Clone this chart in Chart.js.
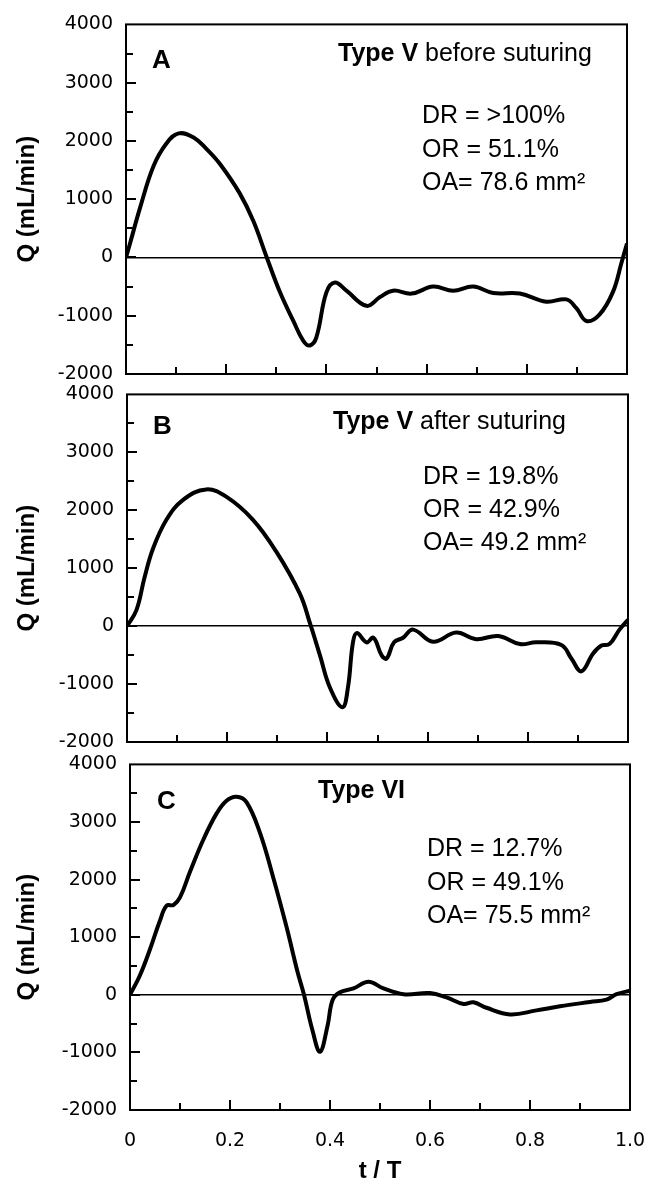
<!DOCTYPE html>
<html>
<head>
<meta charset="utf-8">
<script src="https://cdn.jsdelivr.net/npm/chart.js@4.4.1/dist/chart.umd.min.js"></script>
<style>
  html, body { margin: 0; padding: 0; background: #fff; }
  body { width: 661px; height: 1189px; position: relative; overflow: hidden; }
  canvas { position: absolute; left: 0; }
</style>
</head>
<body>
<canvas id="chartA" style="top:0px"></canvas>
<canvas id="chartB" style="top:370px"></canvas>
<canvas id="chartC" style="top:740px"></canvas>
<script>
// Axis ticks
const yTicks = [-2000, -1000, 0, 1000, 2000, 3000, 4000];
const xTicks = [0, 0.2, 0.4, 0.6, 0.8, 1.0];
const xTickLabels = ['0', '0.2', '0.4', '0.6', '0.8', '1.0'];

// Panel A - Type V before suturing
const timeA = [0, 0.008, 0.028, 0.055, 0.081, 0.105, 0.135, 0.161, 0.188, 0.227, 0.254, 0.281, 0.307, 0.334, 0.354, 0.367, 0.38, 0.40, 0.417, 0.44, 0.48, 0.507, 0.533, 0.57, 0.613, 0.653, 0.693, 0.733, 0.786, 0.839, 0.879, 0.899, 0.919, 0.945, 0.972, 0.989, 1.0];
const flowA = [0, 240, 850, 1570, 1960, 2130, 2060, 1860, 1600, 1100, 630, 0, -590, -1090, -1430, -1510, -1370, -600, -430, -570, -830, -680, -570, -620, -500, -570, -500, -610, -620, -760, -720, -870, -1090, -980, -590, -90, 240];

// Panel B - Type V after suturing
const timeB = [0, 0.019, 0.035, 0.052, 0.079, 0.112, 0.158, 0.198, 0.251, 0.298, 0.345, 0.365, 0.385, 0.405, 0.43, 0.441, 0.451, 0.459, 0.478, 0.492, 0.508, 0.518, 0.533, 0.551, 0.571, 0.611, 0.657, 0.697, 0.741, 0.784, 0.817, 0.867, 0.887, 0.907, 0.93, 0.947, 0.963, 0.983, 1.0];
const flowB = [0, 280, 840, 1340, 1840, 2180, 2360, 2235, 1840, 1285, 560, 55, -500, -1060, -1400, -1060, -280, -120, -280, -200, -500, -560, -280, -200, -60, -270, -110, -225, -170, -310, -280, -325, -560, -780, -475, -335, -310, -60, 110];

// Panel C - Type VI
const timeC = [0, 0.02, 0.04, 0.06, 0.073, 0.087, 0.1, 0.12, 0.147, 0.173, 0.193, 0.213, 0.233, 0.26, 0.287, 0.313, 0.335, 0.348, 0.365, 0.38, 0.395, 0.405, 0.419, 0.447, 0.477, 0.507, 0.547, 0.6, 0.633, 0.667, 0.687, 0.713, 0.76, 0.813, 0.86, 0.92, 0.953, 0.973, 1.0];
const flowC = [0, 340, 790, 1290, 1545, 1560, 1690, 2135, 2700, 3145, 3370, 3440, 3345, 2810, 2020, 1180, 400, 0, -620, -990, -540, -95, 40, 110, 225, 110, 10, 30, -45, -160, -130, -225, -340, -270, -200, -125, -85, 10, 70];

// Panel texts
const statsA = ['DR = >100%', 'OR = 51.1%', 'OA= 78.6 mm\u00B2'];
const statsB = ['DR = 19.8%', 'OR = 42.9%', 'OA= 49.2 mm\u00B2'];
const statsC = ['DR = 12.7%', 'OR = 49.1%', 'OA= 75.5 mm\u00B2'];

const SANS = '"Liberation Sans", Arial, Helvetica, sans-serif';
const TICK_FONT = { family: '"DejaVu Sans", sans-serif', size: 19 };

// frame, inward ticks and text labels
const decorPlugin = {
  id: 'panelDecor',
  afterDraw(chart, args, opts) {
    const { ctx, chartArea: a, scales } = chart;
    const x = scales.x, y = scales.y;
    ctx.save();
    ctx.strokeStyle = '#000';
    ctx.lineWidth = 2;
    ctx.strokeRect(a.left, a.top, a.right - a.left, a.bottom - a.top);

    // y ticks every 500, x ticks every 0.1
    ctx.beginPath();
    for (let v = -1500; v <= 3500; v += 500) {
      const py = Math.round(y.getPixelForValue(v));
      const len = v % 1000 === 0 ? 10 : 7;
      ctx.moveTo(a.left, py);
      ctx.lineTo(a.left + len, py);
    }
    for (let i = 1; i < 10; i++) {
      const px = Math.round(x.getPixelForValue(i / 10));
      const len = i % 2 === 0 ? 10 : 7;
      ctx.moveTo(px, a.bottom);
      ctx.lineTo(px, a.bottom - len);
    }
    ctx.stroke();

    ctx.fillStyle = '#000';
    ctx.textAlign = 'left';
    ctx.textBaseline = 'alphabetic';
    ctx.font = 'bold 26px ' + SANS;
    ctx.fillText(opts.letter, a.left + opts.letterAt[0], a.top + opts.letterAt[1]);

    let tx = a.left + opts.titleAt[0];
    const ty = a.top + opts.titleAt[1];
    ctx.font = 'bold 25px ' + SANS;
    ctx.fillText(opts.titleBold, tx, ty);
    tx += ctx.measureText(opts.titleBold).width;
    ctx.font = '25px ' + SANS;
    ctx.fillText(opts.titleRest, tx, ty);

    opts.stats.forEach((s, i) => {
      ctx.fillText(s, a.left + opts.statsAt[0], a.top + opts.statsAt[1] + i * opts.statsStep);
    });
    ctx.restore();
  }
};

function makePanel(id, times, flows, layout, decor, showX) {
  const canvas = document.getElementById(id);
  canvas.width = 661;
  canvas.height = layout.height;
  canvas.style.width = '661px';
  canvas.style.height = layout.height + 'px';

  return new Chart(canvas, {
    type: 'line',
    data: {
      datasets: [{
        data: times.map((t, i) => ({ x: t, y: flows[i] })),
        borderColor: '#000',
        borderWidth: 4,
        pointRadius: 0,
        fill: false,
        tension: 0.4
      }]
    },
    options: {
      responsive: false,
      animation: false,
      layout: { padding: { top: layout.padTop, right: layout.padRight, left: 0, bottom: 0 } },
      plugins: {
        legend: { display: false },
        tooltip: { enabled: false },
        panelDecor: decor
      },
      scales: {
        x: {
          type: 'linear',
          min: 0,
          max: 1,
          afterBuildTicks: s => { s.ticks = xTicks.map(v => ({ value: v })); },
          afterFit: s => { s.height = layout.xHeight; },
          grid: { display: false },
          border: { display: false },
          ticks: {
            display: showX,
            color: '#000',
            font: TICK_FONT,
            padding: 12,
            maxRotation: 0,
            callback: (v, i) => xTickLabels[i]
          },
          title: {
            display: showX,
            text: 't / T',
            color: '#000',
            font: { family: SANS, size: 24, weight: 'bold' },
            padding: { top: 0, bottom: 3 }
          }
        },
        y: {
          min: -2000,
          max: 4000,
          afterBuildTicks: s => { s.ticks = yTicks.map(v => ({ value: v })); },
          afterFit: s => { s.width = layout.yWidth; },
          grid: {
            drawTicks: false,
            lineWidth: 1.5,
            color: c => (c.tick && c.tick.value === 0 ? '#000' : 'rgba(0,0,0,0)')
          },
          border: { display: false },
          ticks: {
            color: '#000',
            font: TICK_FONT,
            padding: 13,
            callback: v => String(v)
          },
          title: {
            display: true,
            text: 'Q (mL/min)',
            color: '#000',
            font: { family: SANS, size: 24, weight: 'bold' },
            padding: { top: 13, bottom: 0 }
          }
        }
      }
    },
    plugins: [decorPlugin]
  });
}

makePanel('chartA', timeA, flowA,
  { height: 400, padTop: 16, padRight: 34, xHeight: 26, yWidth: 126 },
  { letter: 'A', letterAt: [26, 44], titleBold: 'Type V', titleRest: ' before suturing', titleAt: [212, 37],
    stats: statsA, statsAt: [296, 99], statsStep: 33.5 },
  false);

makePanel('chartB', timeB, flowB,
  { height: 400, padTop: 15, padRight: 33, xHeight: 28, yWidth: 127 },
  { letter: 'B', letterAt: [26, 40], titleBold: 'Type V', titleRest: ' after suturing', titleAt: [206, 35],
    stats: statsB, statsAt: [296, 90], statsStep: 33 },
  false);

makePanel('chartC', timeC, flowC,
  { height: 449, padTop: 13, padRight: 31, xHeight: 79, yWidth: 130 },
  { letter: 'C', letterAt: [27, 45], titleBold: 'Type VI', titleRest: '', titleAt: [188, 34],
    stats: statsC, statsAt: [297, 92], statsStep: 33.5 },
  true);
</script>
</body>
</html>
